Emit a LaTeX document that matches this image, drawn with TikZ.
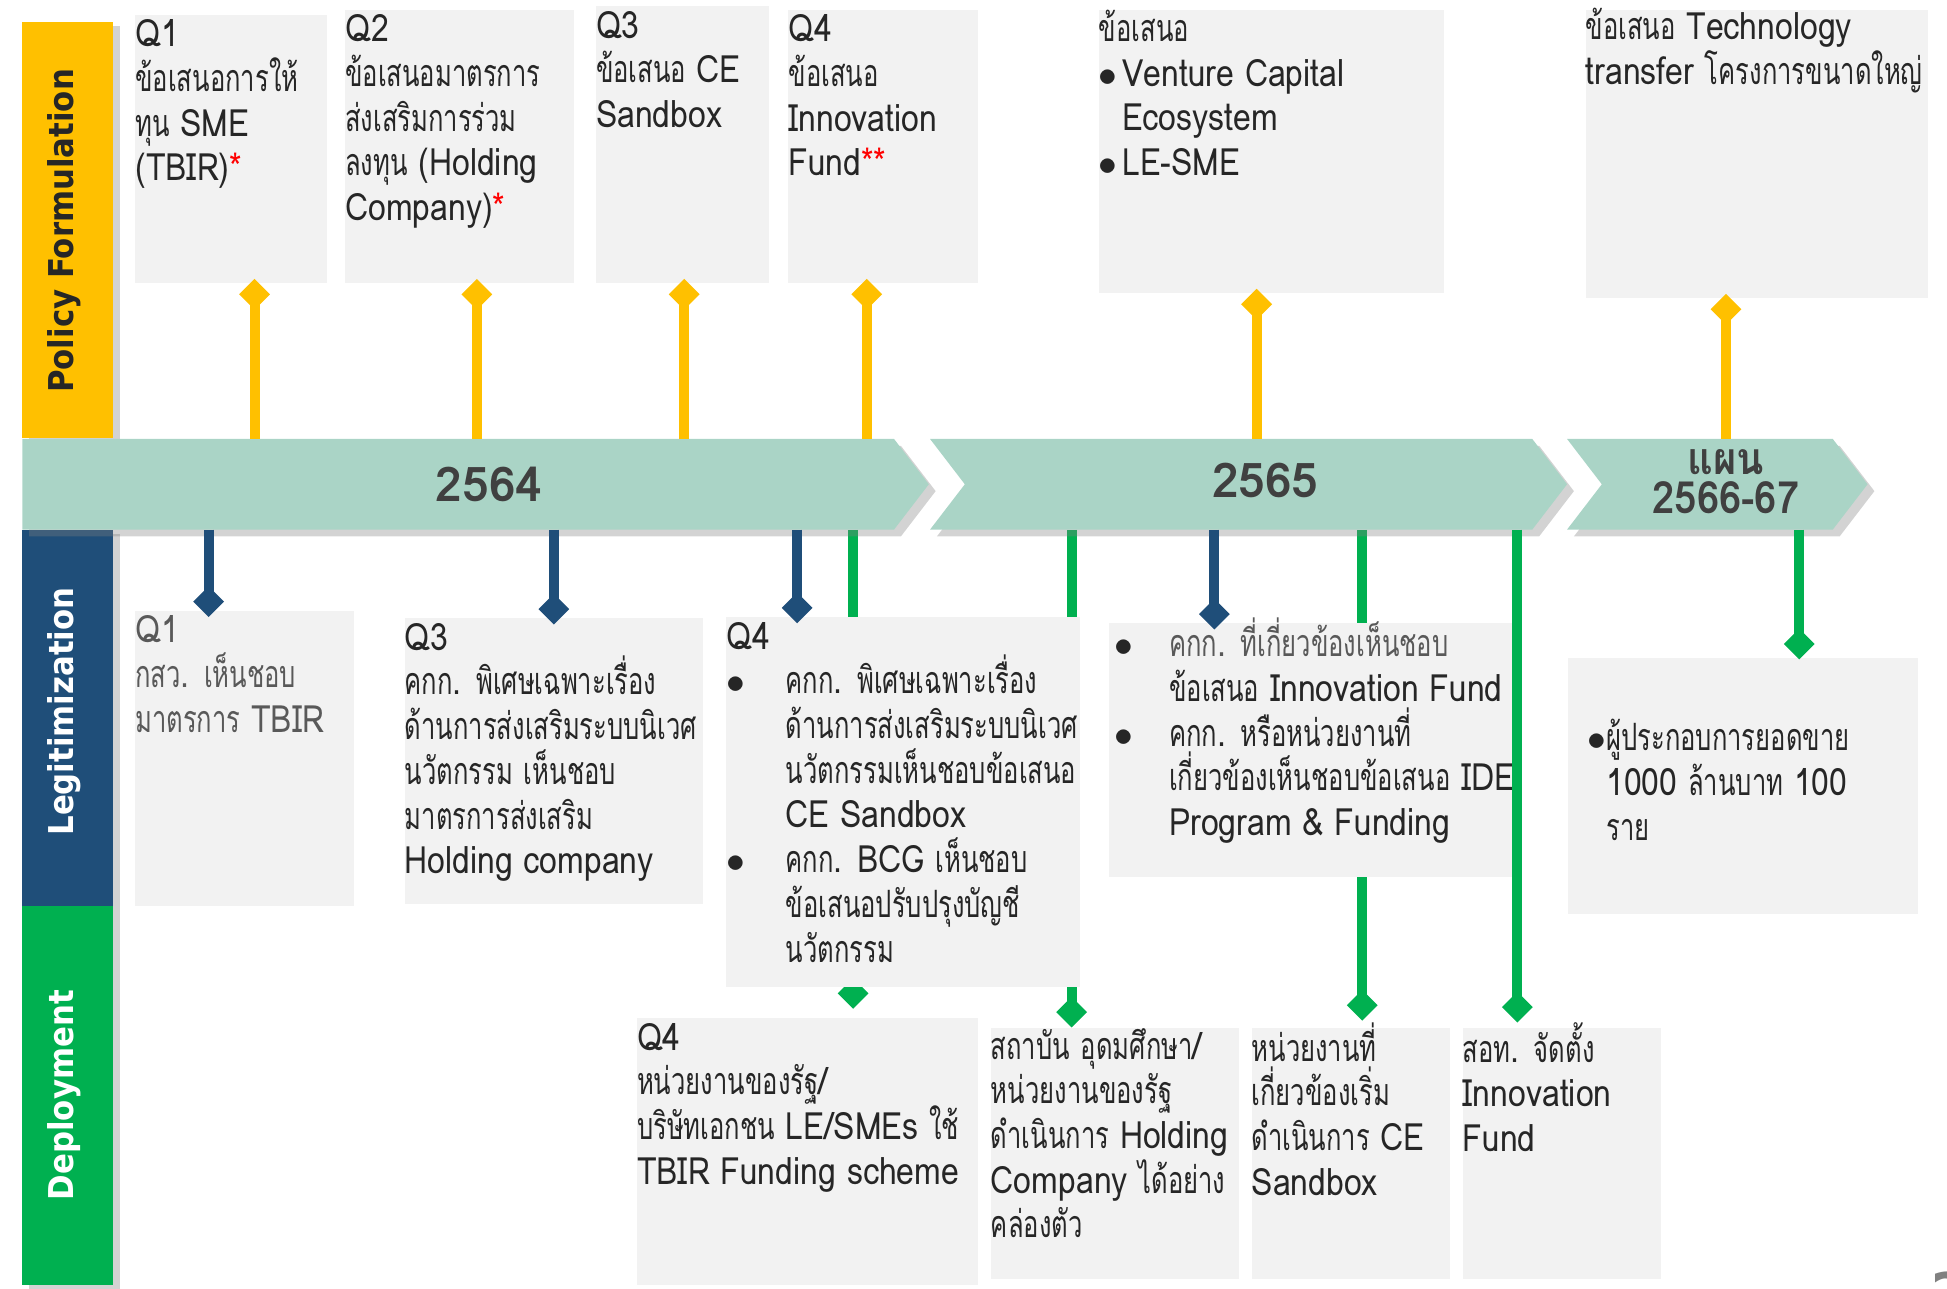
\documentclass[tikz,border=0pt]{standalone}
\usepackage{fontspec}
\usepackage{xcolor}
\setmainfont{Loma}[Script=Thai, FakeStretch=0.85]
\newfontfamily\thaipart{Loma}[Script=Thai, FakeStretch=0.68]
\newfontfamily\bandfont{DejaVu Sans}[FakeStretch=0.9]
\newfontfamily\yearfont{Loma}[Script=Thai]
\newfontfamily\planfont{Loma}[Script=Thai, FakeStretch=0.9]
% Thai runs are set narrower than the Latin ones
\XeTeXinterchartokenstate=1
\newXeTeXintercharclass\ThaiClass
\newcount\thaicnt
\thaicnt="0E01
\loop
	\XeTeXcharclass\thaicnt=\ThaiClass
	\ifnum\thaicnt<"0E5B \advance\thaicnt by 1
\repeat
\XeTeXinterchartoks 0 \ThaiClass = {\thaipart}
\XeTeXinterchartoks 4095 \ThaiClass = {\thaipart}
\XeTeXinterchartoks \ThaiClass 0 = {\rmfamily}
\XeTeXinterchartoks \ThaiClass 4095 = {\rmfamily}
\newcommand{\nothai}{\XeTeXinterchartokenstate=0\relax}
\usetikzlibrary{arrows.meta, shadows, fit, positioning, backgrounds}
\definecolor{PolicyYellow}{RGB}{255,192,0}
\definecolor{LegitBlue}{RGB}{31,78,121}
\definecolor{DeployGreen}{RGB}{0,176,80}
\definecolor{TimeMint}{RGB}{170,212,198}
\definecolor{BoxGray}{RGB}{242,242,242}
\definecolor{YearGray}{RGB}{64,64,64}
\definecolor{TextDark}{RGB}{38,38,38}
\newcommand{\redstar}[1]{\textcolor{red}{#1}}
\newcommand{\bul}[1]{\makebox[#1][l]{$\bullet$}}
\tikzset{
	sideband/.style={inner sep=0pt, drop shadow={shadow xshift=2pt, shadow yshift=-1pt, opacity=0.35}},
	sidelabel/.style={rotate=90, font=\bandfont\bfseries\fontsize{10}{12}\selectfont},
	tband/.style={fill=TimeMint, drop shadow={shadow xshift=2pt, shadow yshift=-2pt, opacity=0.35}},
	yearlbl/.style={align=center, text=YearGray, font=\nothai\yearfont\bfseries\fontsize{14}{11}\selectfont},
	gbox/.style={fill=BoxGray, inner sep=0pt},
	txt/.style={anchor=north west, align=left, inner sep=0pt, yshift=-0.05cm, text=TextDark, font=\fontsize{11}{13.07}\selectfont},
	ycon/.style={draw=PolicyYellow, line width=2.9pt, -{Diamond[length=9pt, width=9pt]}},
	bcon/.style={draw=LegitBlue, line width=2.9pt, -{Diamond[length=9pt, width=9pt]}},
	gcon/.style={draw=DeployGreen, line width=2.9pt, -{Diamond[length=9pt, width=9pt]}},
}

\begin{document}
\begin{tikzpicture}[x=0.012755cm, y=-0.012755cm]
\useasboundingbox (0,0) rectangle (1568,1038);

% side bands
\node[sideband, fill=PolicyYellow, fit={(18,18)(91,353)}] (pfband) {};
\node[sideband, fill=LegitBlue, fit={(18,427)(91,730)}] (lgband) {};
\node[sideband, fill=DeployGreen, fit={(18,730)(91,1035)}] (dpband) {};
\node[sidelabel, text=TextDark] (pflbl) at (52,186) {Policy Formulation};
\node[sidelabel, text=white] (lglbl) at (52,573) {Legitimization};
\node[sidelabel, text=white] (dplbl) at (52,882) {Deployment};

% timeline
\path[tband] (18,353.5) -- (720,353.5) -- (748,390) -- (720,426.5) -- (18,426.5) -- cycle;
\path[tband] (749,353.5) -- (1234,353.5) -- (1262,390) -- (1234,426.5) -- (749,426.5) -- (777,390) -- cycle;
\path[tband] (1262,353.5) -- (1476,353.5) -- (1504,390) -- (1476,426.5) -- (1262,426.5) -- (1290,390) -- cycle;
\coordinate (tlt) at (18,353.5);
\coordinate (tlb) at (18,426.5);
\node[yearlbl] (y2564) at (394,390) {2564};
\node[yearlbl] (y2565) at (1019,387) {2565};
\node[yearlbl, font=\nothai\planfont\bfseries\fontsize{13}{11.5}\selectfont] (y2566) at (1390,388) {แผน\\2566-67};

% policy formulation
\node[gbox, fit={(109,12)(263,228)}] (pf1) {};
\node[txt] (pf1t) at (pf1.north west) {Q1\\ข้อเสนอการให้\\ทุน SME\\(TBIR)\redstar{*}};
\node[gbox, fit={(278,8)(462,228)}] (pf2) {};
\node[txt] (pf2t) at (pf2.north west) {Q2\\ข้อเสนอมาตรการ\\ส่งเสริมการร่วม\\ลงทุน (Holding\\Company)\redstar{*}};
\node[gbox, fit={(480,5)(619,228)}] (pf3) {};
\node[txt] (pf3t) at (pf3.north west) {Q3\\ข้อเสนอ CE\\Sandbox};
\node[gbox, fit={(635,8)(788,228)}] (pf4) {};
\node[txt] (pf4t) at (pf4.north west) {Q4\\ข้อเสนอ\\Innovation\\Fund\redstar{**}};
\node[gbox, fit={(885,8)(1163,236)}] (pf5) {};
\node[txt] (pf5t) at ([yshift=0.05cm]pf5.north west) {ข้อเสนอ\\\bul{0.24cm}Venture Capital\\\hspace*{0.24cm}Ecosystem\\\bul{0.24cm}LE-SME};
\node[gbox, fit={(1277,8)(1553,240)}] (pf6) {};
\node[txt] (pf6t) at ([yshift=0.07cm]pf6.north west) {ข้อเสนอ Technology\\transfer โครงการขนาดใหญ่};

% legitimization
\node[gbox, fit={(109,492)(285,730)}] (lg1) {};
\node[txt, text=black!65] (lg1t) at (lg1.north west) {Q1\\กสว. เห็นชอบ\\มาตรการ TBIR};
\node[gbox, fit={(326,498)(566,728)}] (lg2) {};
\node[txt] (lg2t) at (lg2.north west) {Q3\\คกก. พิเศษเฉพาะเรื่อง\\ด้านการส่งเสริมระบบนิเวศ\\นวัตกรรม เห็นชอบ\\มาตรการส่งเสริม\\Holding company};
\node[gbox, fit={(585,497)(870,795)}] (lg3) {};
\node[txt] (lg3t) at (lg3.north west) {Q4\\\bul{0.61cm}คกก. พิเศษเฉพาะเรื่อง\\\hspace*{0.61cm}ด้านการส่งเสริมระบบนิเวศ\\\hspace*{0.61cm}นวัตกรรมเห็นชอบข้อเสนอ\\\hspace*{0.61cm}CE Sandbox\\\bul{0.61cm}คกก. BCG เห็นชอบ\\\hspace*{0.61cm}ข้อเสนอปรับปรุงบัญชี\\\hspace*{0.61cm}นวัตกรรม};
\node[gbox, fit={(893,502)(1218,706)}] (lg4) {};
\node[txt] (lg4t) at ([xshift=0.06cm, yshift=0.105cm]lg4.north west) {\bul{0.56cm}\textcolor{black!65}{คกก. ที่เกี่ยวข้องเห็นชอบ}\\\hspace*{0.56cm}ข้อเสนอ Innovation Fund\\\bul{0.56cm}คกก. หรือหน่วยงานที่\\\hspace*{0.56cm}เกี่ยวข้องเห็นชอบข้อเสนอ IDE\\\hspace*{0.56cm}Program \& Funding};
\node[gbox, fit={(1263,530)(1545,736)}] (lg5) {};
\node[txt] (lg5t) at ([xshift=0.2cm, yshift=-0.58cm]lg5.north west) {\bul{0.19cm}ผู้ประกอบการยอดขาย\\\hspace*{0.19cm}1000 ล้านบาท 100\\\hspace*{0.19cm}ราย};

% deployment
\node[gbox, fit={(513,820)(788,1035)}] (dp1) {};
\node[txt] (dp1t) at (dp1.north west) {Q4\\หน่วยงานของรัฐ/\\บริษัทเอกชน LE/SMEs ใช้\\TBIR Funding scheme};
\node[gbox, fit={(798,828)(998,1030)}] (dp2) {};
\node[txt] (dp2t) at ([yshift=0.05cm]dp2.north west) {สถาบัน อุดมศึกษา/\\หน่วยงานของรัฐ\\ดำเนินการ Holding\\Company ได้อย่าง\\คล่องตัว};
\node[gbox, fit={(1008,828)(1168,1030)}] (dp3) {};
\node[txt] (dp3t) at ([yshift=0.11cm]dp3.north west) {หน่วยงานที่\\เกี่ยวข้องเริ่ม\\ดำเนินการ CE\\Sandbox};
\node[gbox, fit={(1178,828)(1338,1030)}] (dp4) {};
\node[txt] (dp4t) at ([yshift=0.11cm]dp4.north west) {สอท. จัดตั้ง\\Innovation\\Fund};

% connectors
\foreach \x/\b in {205/pf1, 384/pf2, 551/pf3, 698/pf4, 1012/pf5, 1390/pf6}
	\draw[ycon, shorten >=-0.05cm] (tlt -| \x,0) -- (\b.south -| \x,0);
\foreach \x/\b in {168/lg1, 446/lg2, 642/lg3, 978/lg4}
	\draw[bcon, shorten >=-0.07cm] (tlb -| \x,0) -- (\b.north -| \x,0);
\begin{scope}[on background layer]
\foreach \x/\b/\s in {687/dp1/0.09cm, 863/dp2/0cm, 1097/dp3/0.07cm}
	\draw[gcon, shorten >=\s] (tlb -| \x,0) -- (\b.north -| \x,0);
\end{scope}
\draw[gcon, shorten >=0.05cm] (tlb -| 1222,0) -- (dp4.north -| 1222,0);
\draw[gcon, shorten >=-0.02cm] (tlb -| 1449,0) -- (lg5.north -| 1449,0);

\node[anchor=north west, inner sep=0pt, text=gray, font=\bandfont\bfseries\fontsize{16}{16}\selectfont] (pgno) at (1555,1024) {2};
\end{tikzpicture}
\end{document}
